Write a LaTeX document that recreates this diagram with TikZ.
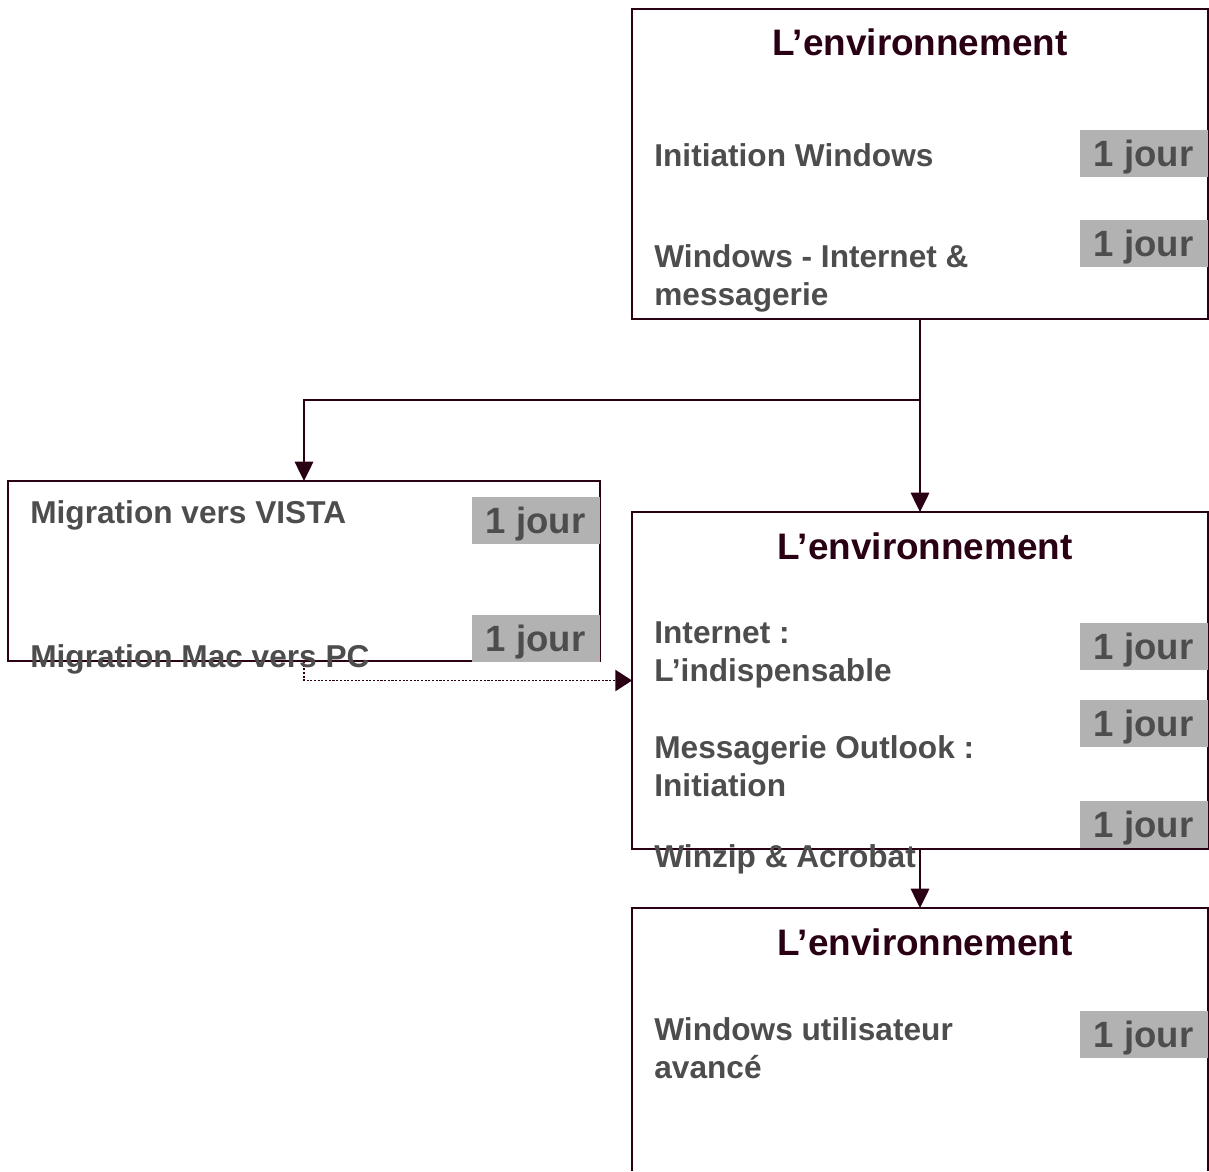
\documentclass[tikz,border=0pt]{standalone}
\usepackage{fontspec}
\setmainfont{Liberation Sans}
\usetikzlibrary{positioning,arrows.meta}
\definecolor{wine}{RGB}{42,0,20}
\definecolor{txtgray}{RGB}{77,77,77}
\definecolor{daygray}{RGB}{178,178,178}

\begin{document}
\begin{tikzpicture}[
 x=0.02cm, y=-0.02cm,
 frame/.style = {rectangle, draw=wine, line width=1.1pt,% the big boxes
                 minimum width=11.52cm, inner sep=0pt, outer sep=0pt},
 title/.style = {anchor=base, inner sep=0pt,
                 font=\fontsize{21}{25}\selectfont\bfseries, text=wine},
  item/.style = {anchor=base west, align=left, inner sep=0pt,% base = last line
                 font=\fontsize{18}{21.5}\selectfont\bfseries, text=txtgray},
   day/.style = {fill=daygray, text=txtgray, anchor=north east,% grey duration tags
                 minimum width=2.56cm, minimum height=0.94cm,
                 text height=14.9pt, text depth=0pt, inner sep=0pt,
                 font=\fontsize{20.8}{24}\selectfont\bfseries},
  link/.style = {draw=wine, line width=1.1pt,
                 -{Triangle[width=10.5pt,length=11pt]}},
                    ]
\useasboundingbox (0,0) rectangle (1209,1171);
% frames
\node[frame, minimum height=6.2cm]  (envA) at (920,164) {};
\node[frame, minimum width=11.84cm, minimum height=3.6cm] (migr) at (304,571) {};
\node[frame, minimum height=6.74cm] (envB) at (920,680.5) {};
\node[frame, draw=none, minimum height=5.26cm] (envC) at (920,1039.5) {};
\draw[wine, line width=1.1pt] (envC.south west) -- (envC.north west)
      -- (envC.north east) -- (envC.south east);% open at the bottom
% connectors
\coordinate (fork) at (920,400);
\draw[link] (envA.south) -- (envB.north);
\draw[link] (fork) -| (migr.north);
\draw[link] (envB.south) -- (envC.north);
\draw[link, dash pattern=on 1.2pt off 0.9pt,
      -{Triangle[width=12pt,length=9.5pt]}] (migr.south) |- (envB.west);
% titles
\node[title] (tA) at (920,55)  {L’environnement};
\node[title] (tB) at (925,559) {L’environnement};
\node[title] (tC) at (925,955) {L’environnement};
% courses
\node[item] (iwin)   at (654,166)  {Initiation Windows};
\node[item] (iweb)   at (654,305)  {Windows - Internet \&\\messagerie};
\node[item] (ivista) at (30,523)   {Migration vers VISTA};
\node[item] (imac)   at (30,667)   {Migration Mac vers PC};
\node[item] (inet)   at (654,681)  {Internet :\\L’indispensable};
\node[item] (iout)   at (654,796)  {Messagerie Outlook :\\Initiation};
\node[item] (izip)   at (654,867)  {Winzip \& Acrobat};
\node[item] (iadv)   at (654,1078) {Windows utilisateur\\avancé};
% durations
\foreach \x/\y [count=\i] in {1208/130, 1208/220, 600/497, 600/615,
                              1208/623, 1208/700, 1208/801, 1208/1011}
    \node[day] (day\i) at (\x,\y) {1 jour};
\end{tikzpicture}
\end{document}
